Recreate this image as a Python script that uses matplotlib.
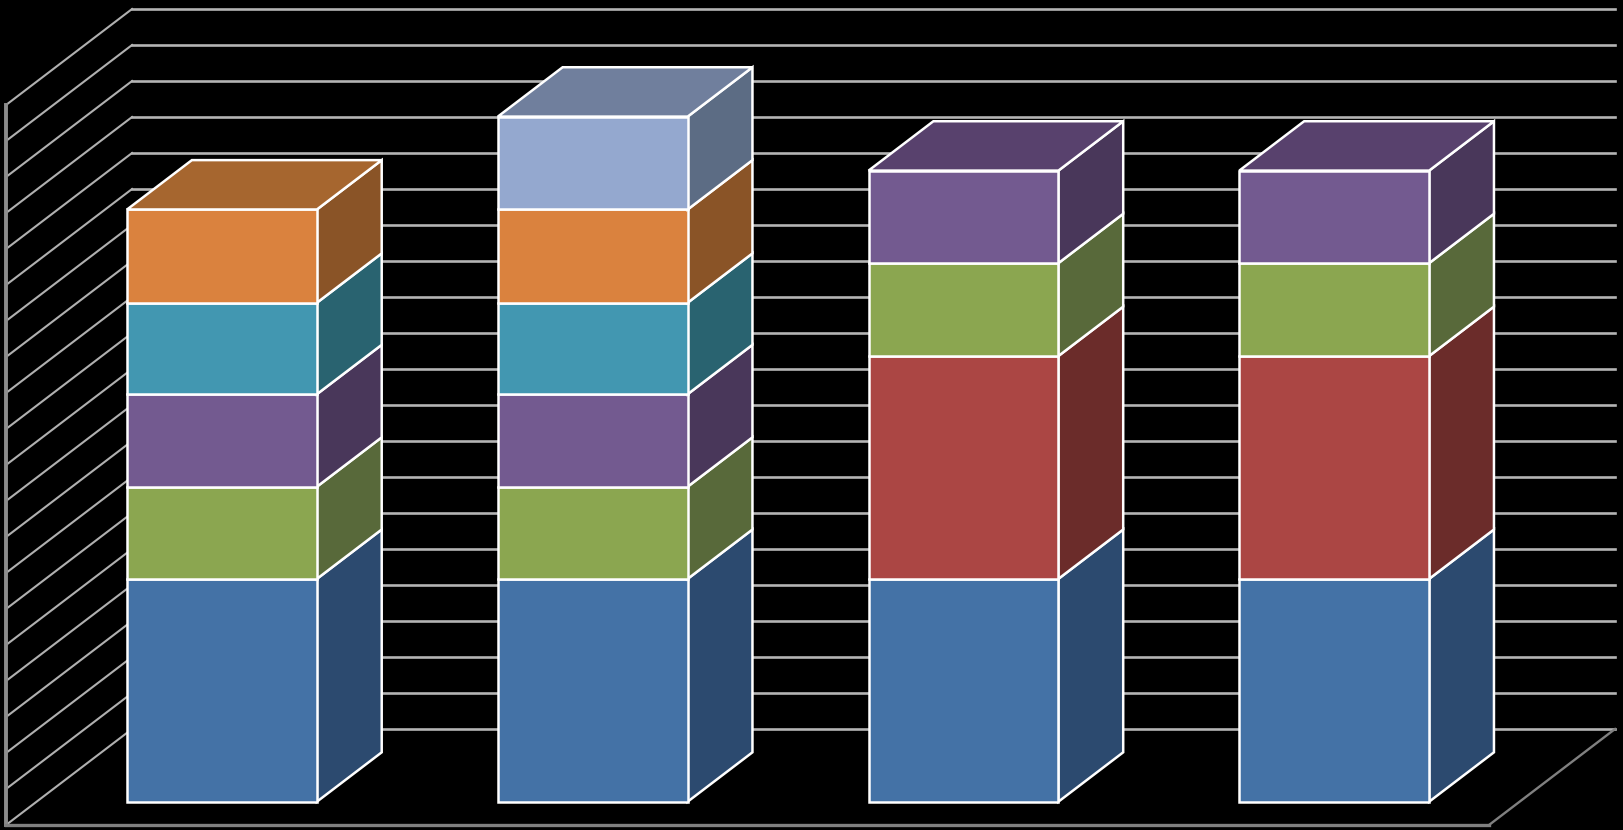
import matplotlib

matplotlib.use("Agg")
from matplotlib import pyplot as plt

categories = ["A", "B", "C", "D"]
blue = [6.19, 6.19, 6.19, 6.19]
red = [0, 0, 6.19, 6.19]
green = [2.56, 2.56, 2.58, 2.58]
purple = [2.57, 2.57, 2.57, 2.57]
teal = [2.54, 2.54, 0, 0]
orange = [2.59, 2.59, 0, 0]
lightblue = [0, 2.58, 0, 0]

series = [blue, red, green, purple, teal, orange, lightblue]
# front, side, top face colours per series
front_colors = ["#4472A6", "#AB4644", "#8BA650", "#735A90", "#4297B1", "#DA823E", "#94A8CF"]
side_colors = ["#2C4A6F", "#6B2C2A", "#58693A", "#49375A", "#296370", "#8A5427", "#5C6C84"]
top_colors = ["#3A618E", "#8F3B39", "#748B43", "#58416D", "#357F95", "#A6662F", "#707F9D"]

ymax = 20
bar_width = 0.512
# oblique projection of the depth axis, z runs 0 (front) to 1 (back)
dx = 0.34
dy = 2.667
bar_z0 = 0.243
bar_z1 = 0.757


def proj(x, v, z):
    return x + z * dx, v + z * dy


def main():
    fig = plt.figure(figsize=(16.23, 8.3), dpi=100, facecolor="black")
    ax = fig.add_axes([0, 0, 1, 1])
    ax.set_facecolor("black")
    ax.set_axis_off()
    ax.set_xlim(-6 / 370.75, 1617 / 370.75)
    ax.set_ylim(-5 / 36, 825 / 36)

    # gridlines, side wall thinner than back wall
    for v in range(ymax + 1):
        xs, ys = zip(proj(0, v, 0), proj(0, v, 1))
        ax.plot(xs, ys, color="#B0B0B0", lw=1.5, zorder=1)
        xs, ys = zip(proj(0, v, 1), proj(len(categories), v, 1))
        ax.plot(xs, ys, color="#B4B4B4", lw=1.9, zorder=1)

    # left wall edge and floor edges
    xs, ys = zip(proj(0, ymax, 0), proj(0, 0, 0))
    ax.plot(xs, ys, color="#8C8C8C", lw=2.8, zorder=2)
    xs, ys = zip(proj(0, 0, 0), proj(len(categories), 0, 0))
    ax.plot(xs, ys, color="#808080", lw=2.4, zorder=2)
    xs, ys = zip(proj(len(categories), 0, 0), proj(len(categories), 0, 1))
    ax.plot(xs, ys, color="#808080", lw=1.7, zorder=2)

    edge = {"edgecolor": "white", "linewidth": 1.8, "joinstyle": "miter", "zorder": 3}
    for i in range(len(categories)):
        x0 = i + 0.5 - bar_width / 2
        x1 = i + 0.5 + bar_width / 2
        bottom = 0
        last = max(k for k, s in enumerate(series) if s[i] > 0)
        for k, s in enumerate(series):
            if s[i] == 0:
                continue
            top = bottom + s[i]
            front = [proj(x0, bottom, bar_z0), proj(x1, bottom, bar_z0),
                     proj(x1, top, bar_z0), proj(x0, top, bar_z0)]
            side = [proj(x1, bottom, bar_z0), proj(x1, bottom, bar_z1),
                    proj(x1, top, bar_z1), proj(x1, top, bar_z0)]
            ax.fill(*zip(*side), facecolor=side_colors[k], **edge)
            ax.fill(*zip(*front), facecolor=front_colors[k], **edge)
            if k == last:
                lid = [proj(x0, top, bar_z0), proj(x1, top, bar_z0),
                       proj(x1, top, bar_z1), proj(x0, top, bar_z1)]
                ax.fill(*zip(*lid), facecolor=top_colors[k], **edge)
            bottom = top

    fig.savefig("out.png", dpi=100, facecolor="black")


if __name__ == "__main__":
    main()
